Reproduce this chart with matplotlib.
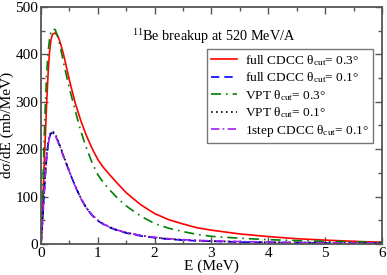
import numpy as np
import matplotlib
matplotlib.use("Agg")
import matplotlib.pyplot as plt
from matplotlib.ticker import MultipleLocator

plt.rcParams["font.family"] = ["Liberation Serif", "DejaVu Serif"]
plt.rcParams["mathtext.fontset"] = "custom"
plt.rcParams["mathtext.rm"] = "Liberation Serif"
plt.rcParams["mathtext.it"] = "Liberation Serif:italic"

# energy grid (MeV)
E = [0, 0.025, 0.05, 0.075, 0.1, 0.125, 0.15, 0.175, 0.2, 0.25, 0.3, 0.35,
     0.4, 0.5, 0.6, 0.7, 0.8, 0.9, 1.0, 1.1, 1.2, 1.35, 1.5, 1.75, 2.0, 2.25,
     2.5, 2.75, 3.0, 3.5, 4.0, 4.5, 5.0, 5.5, 6.0]
# d sigma / dE (mb/MeV)
cdcc_03 = [0, 60, 150, 225, 300, 360, 405, 430, 442, 445, 438, 420,
           398, 345, 298, 260, 228, 201, 178, 161, 147, 127, 108, 83, 64, 51,
           42, 34, 29, 21, 15.5, 11, 8, 5.5, 3.5]
cdcc_01 = [0, 45, 95, 145, 185, 210, 226, 233, 235, 230, 216, 200,
           183, 152, 122, 96, 75, 60, 49, 41, 35, 28, 23, 17, 13, 10,
           8, 6.5, 5.5, 4, 3, 2.5, 2, 1.5, 1.2]
vpt_03 = [0, 80, 200, 290, 360, 405, 432, 447, 453, 452, 435, 410,
          380, 328, 282, 238, 202, 171, 146, 129, 115, 96, 80, 59, 43, 33,
          26, 20, 16, 12, 9, 7, 5.5, 4.5, 3.5]
vpt_01 = [0, 46, 97, 148, 188, 213, 229, 236, 238, 232, 218, 202,
          185, 153, 123, 97, 76, 61, 50, 42, 36, 29, 24, 18, 13.5, 10.5,
          8.5, 7, 6, 4.5, 3.5, 3, 2.5, 2, 1.5]
step1_01 = [0, 44, 94, 144, 184, 209, 225, 232, 234, 229, 215, 200,
            183, 152, 122, 96, 76, 61, 50, 42, 36, 29, 24, 18, 14, 11,
            9, 7.5, 6.5, 5, 4, 3.2, 2.6, 2.1, 1.7]

fig = plt.figure(figsize=(3.87, 2.75), dpi=100)
ax = fig.add_axes([0.106, 0.113, 0.881, 0.862])

lw = 1.2
ax.plot(E, cdcc_03, "-", color="#ff0000", lw=lw, label="full CDCC θ$_{\\rm cut}$= 0.3°")
ax.plot(E, cdcc_01, "--", color="#0000ff", lw=lw, dashes=(5, 3), label="full CDCC θ$_{\\rm cut}$= 0.1°")
ax.plot(E, vpt_03, color="#008000", lw=lw, dashes=(6, 3, 1, 3), label="VPT θ$_{\\rm cut}$= 0.3°")
ax.plot(E, vpt_01, ":", color="black", lw=lw, dashes=(1, 2), label="VPT θ$_{\\rm cut}$= 0.1°")
ax.plot(E, step1_01, color="#a020f0", lw=lw, dashes=(5, 2, 1, 2), label="1step CDCC θ$_{\\rm cut}$= 0.1°")

ax.set_xlim(0, 6)
ax.set_ylim(0, 500)
ax.xaxis.set_major_locator(MultipleLocator(1))
ax.xaxis.set_minor_locator(MultipleLocator(0.5))
ax.yaxis.set_major_locator(MultipleLocator(100))
ax.yaxis.set_minor_locator(MultipleLocator(50))
ax.tick_params(which="both", direction="in", top=True, right=True,
               labelsize=11, color="#555555", pad=2)
ax.tick_params(which="major", length=5, width=1)
ax.tick_params(which="minor", length=3, width=1)
for s in ax.spines.values():
    s.set_color("#555555")
    s.set_linewidth(1.3)

ax.set_xlabel("E (MeV)", fontsize=11, labelpad=0)
ax.set_ylabel("dσ/dE (mb/MeV)", fontsize=11, labelpad=1)

ax.text(0.267, 0.875, r"$^{11}$Be breakup at 520 MeV/A", transform=ax.transAxes,
        fontsize=10.3, ha="left", va="center")

leg = ax.legend(loc="upper right", bbox_to_anchor=(0.974, 0.823), fontsize=9.6,
                frameon=True, fancybox=False, edgecolor="#555555",
                handlelength=2.0, handletextpad=0.6, borderpad=0.3,
                labelspacing=0.2, borderaxespad=0)
leg.get_frame().set_linewidth(1.0)

fig.savefig("out.png", dpi=100, facecolor="white")
